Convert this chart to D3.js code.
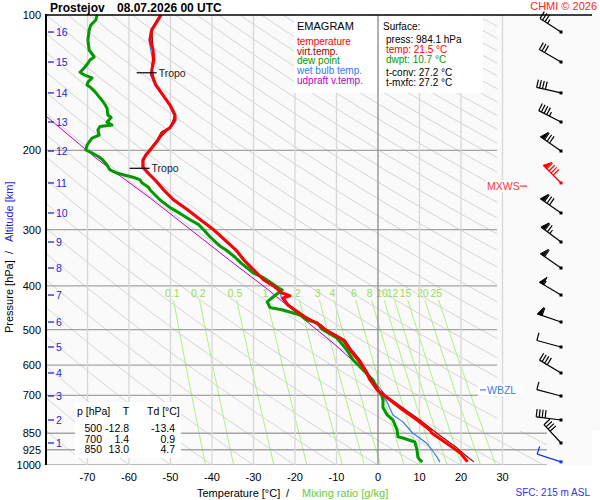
<!DOCTYPE html>
<html>
<head>
<meta charset="utf-8">
<script src="https://cdn.jsdelivr.net/npm/d3@7"></script>
<style>
body { margin: 0; background: #fff; }
svg { font-family: "Liberation Sans", Arial, sans-serif; }
</style>
</head>
<body>
<svg id="emagram" width="600" height="500"></svg>
<script>
const station = 'Prostejov';
const runLabel = '08.07.2026 00 UTC';

const pressureTicks = [100, 200, 300, 400, 500, 600, 700, 850, 925, 1000];
const pressureLines = [200, 300, 400, 500, 600, 700, 850, 925, 1000];
const tempTicks = [-70, -60, -50, -40, -30, -20, -10, 0, 10, 20, 30];
const mixRatios = [0.1, 0.2, 0.5, 1, 2, 3, 4, 6, 8, 10, 12, 15, 20, 25];

const altKm = [1, 2, 3, 4, 5, 6, 7, 8, 9, 10, 11, 12, 13, 14, 15, 16];
const altP = [893.5, 794.3, 702.6, 624.5, 546.7, 481.1, 419.1, 365.0, 319.5, 275.4, 236.2, 200.6, 172.9, 149.0, 127.2, 109.1];

// [p hPa, T degC]
const temperature = [[984.1, 21.5], [979.5, 21.4], [940, 19.8], [916, 18.1], [879.9, 15.4], [850, 13.0], [836.0, 12.5],
    [794.3, 9.4], [754.7, 6.0], [717.1, 2.9], [700, 1.4], [681.3, -0.2], [647.3, -1.9], [615.1, -3.1], [584.3, -4.8],
    [555.2, -6.7], [527.5, -8.4], [500, -12.8], [488.6, -14.0], [469, -17.6], [452.5, -20.0], [441.0, -21.7],
    [425.5, -22.9], [421, -21.2], [414.8, -23.1], [402.2, -24.8], [388.1, -27.5], [368.7, -29.9], [350.3, -32.3],
    [332.9, -34.2], [316.2, -36.9], [300.5, -39.5], [285.5, -42.7], [271.2, -45.8], [257.7, -49.2], [244.8, -51.6],
    [232.6, -53.7], [224.5, -55.4], [217.6, -56.6], [210.0, -56.6], [204.7, -55.9], [199.5, -54.9], [189.6, -53.0],
    [182.5, -52.0], [178, -50.1], [171.1, -48.9], [166.8, -48.9], [158.5, -50.1], [150.6, -51.8], [143.1, -53.5],
    [135.9, -54.5], [132.5, -54.5], [125.9, -54.0], [119.6, -54.2], [113.7, -54.9], [108.0, -54.5], [103.6, -53.3],
    [100, -52.3]];

const virtTemp = [[984.1, 23.1], [950.2, 21.0], [916, 19.0], [879.9, 16.4], [850, 14.2], [794.3, 10.1], [754.7, 6.7],
    [717.1, 3.4], [700, 1.8], [681.3, 0.1], [647.3, -1.5], [615.1, -2.8], [584.3, -4.3], [555.2, -6.3], [527.5, -7.9],
    [500, -12.4], [488.6, -13.7], [469, -17.3], [452.5, -19.8], [441.0, -21.5], [425.5, -22.7], [421, -21.1],
    [414.8, -23.0], [402.2, -24.7], [388.1, -27.5], [368.7, -29.9], [350.3, -32.3], [332.9, -34.2], [316.2, -36.9],
    [300.5, -39.5], [285.5, -42.7], [271.2, -45.8], [257.7, -49.2], [244.8, -51.6], [232.6, -53.7], [224.5, -55.4],
    [217.6, -56.6], [210.0, -56.6], [199.5, -54.9], [189.6, -53.0], [178, -50.1], [166.8, -48.9], [158.5, -50.1],
    [143.1, -53.5], [132.5, -54.5], [119.6, -54.2], [108.0, -54.5], [100, -52.3]];

const wetBulb = [[984.1, 14.9], [960, 14.2], [926.1, 13.0], [896, 11.8], [872, 10.1], [850, 8.4], [802, 6.0], [774, 3.6],
    [725, 2.2], [700, 1.1], [681.3, -0.4], [647.3, -2.1], [615.1, -3.3], [584.3, -5.0], [555.2, -6.9], [527.5, -8.7],
    [500, -13.0], [488.6, -14.3], [469, -17.9], [452.5, -20.3], [441.0, -22.0], [425.5, -23.3], [414.8, -23.5],
    [402.2, -25.1], [388.1, -27.8], [368.7, -30.2], [350.3, -32.6], [332.9, -34.5], [316.2, -37.2], [300.5, -39.8],
    [285.5, -43.0], [271.2, -46.1], [257.7, -49.5], [244.8, -51.9], [232.6, -54.0], [224.5, -55.7], [217.6, -56.9],
    [210.0, -56.9], [204.7, -56.2], [199.5, -55.2], [189.6, -53.3], [182.5, -52.3], [178, -50.4], [171.1, -49.2],
    [166.8, -49.2], [158.5, -50.4], [150.6, -52.1], [143.1, -53.8], [135.9, -54.8], [125.9, -54.3], [113.7, -55.2],
    [108.0, -54.8], [103.6, -53.6], [100, -52.6]];

const dewPoint = [[984.1, 10.7], [974.8, 10.1], [960, 9.6], [926.1, 9.4], [889, 8.9], [871, 6.0], [866, 4.8], [850, 4.7],
    [836.0, 4.6], [794.3, 3.6], [774, 2.2], [745, 1.2], [717.1, 1.2], [700, 0.9], [681.3, 0.0], [647.3, -1.2],
    [615.1, -3.6], [584.3, -6.0], [555.2, -7.5], [522, -9.9], [500, -13.4], [483, -14.7], [476.2, -17.1],
    [464.2, -18.8], [452.5, -22.9], [447, -26.0], [434, -26.7], [423.3, -25.3], [408.4, -23.1], [402.2, -24.3],
    [395, -25.5], [384, -27.5], [374, -30.1], [356, -33.0], [345, -34.5], [332.9, -36.6], [326, -38.1], [311, -40.5],
    [300, -42.0], [292, -43.3], [285, -45.3], [276, -47.7], [268, -50.1], [257.7, -52.5], [244.8, -54.9], [241, -55.4],
    [236, -56.9], [232.6, -57.3], [230, -58.6], [226.8, -61.2], [224.5, -62.9], [221.0, -64.6], [215.4, -65.3],
    [210.0, -66.3], [206.8, -67.2], [202.6, -68.9], [199.5, -70.4], [194.5, -70.1], [191.5, -69.6], [187.7, -68.9],
    [184.8, -67.2], [180.1, -67.5], [177, -67.0], [175.6, -64.1], [173, -65.3], [169, -64.3], [166.8, -65.1],
    [161, -65.3], [157, -66.0], [152, -67.2], [148, -68.2], [145, -69.2], [143.1, -70.1], [141, -69.9], [138, -68.9],
    [135.9, -70.8], [134, -71.8], [130.5, -70.6], [128, -69.9], [125.9, -69.4], [124, -68.4], [122.7, -68.7],
    [119.6, -69.6], [113.7, -69.9], [108.0, -69.6], [105.3, -69.2], [102.6, -68.0], [100, -67.7]];

const updraft = [[695, 1.5], [688.3, 1.2], [624.5, -2.7], [535.8, -10.8], [466.6, -18.8], [406.3, -26.7],
    [355.7, -34.9], [311.4, -42.9], [255.1, -54.9], [208.9, -67.7], [167.7, -80.0]];

// wind: surface, then 1..16 km
const windP = [984.1].concat(altP);
const windDir = [288, 317, 277, 285, 301, 285, 289, 301, 305, 307, 305, 315, 305, 297, 283, 300, 303];
const windSpd = [10, 40, 40, 10, 40, 10, 60, 55, 60, 75, 80, 90, 80, 45, 40, 30, 35];
const maxWindKm = 11;

const tropoP = [134.4, 219.1];
const tropoT = [-54.3, -56.0];
const wbzlP = 681;
const mxwsP = 240;

const surface = {press: 984.1, temp: 21.5, dwpt: 10.7, tconv: 27.2, tmxfc: 27.2, height: 215};
const tableP = [500, 700, 850];
const tableT = [-12.8, 1.4, 13.0];
const tableTd = [-13.4, 0.9, 4.7];

const legendNames = ['temperature', 'virt.temp.', 'dew point', 'wet bulb temp.', 'udpraft v.temp.'];
const legendColors = ['#ff0000', '#a00000', '#009900', '#3377ff', '#bb00bb'];

// ---------------------------------------------------------------------------
let svg = d3.select('#emagram');
let x = d3.scaleLinear().domain([-80, 40]).range([46, 544]);
let y = d3.scaleLog().domain([100, 1000]).range([15, 465]);
let line = d3.line().x((d) => x(d[1])).y((d) => y(d[0]));

svg.append('defs').append('clipPath').attr('id', 'plotClip')
    .append('rect').attr('x', 46).attr('y', 15).attr('width', 501).attr('height', 450);

svg.append('rect').attr('x', 46).attr('y', 15).attr('width', 546).attr('height', 450).attr('fill', '#fafafa');

let grid = svg.append('g').attr('clip-path', 'url(#plotClip)');

// dry adiabats
let steps = d3.range(100, 1001, 5);
d3.range(-70, 341, 10).forEach((theta) => {
    let pts = steps.map((p) => [p, (theta + 273.15) * Math.pow(p / 1000, 0.2857) - 273.15]);
    grid.append('path').datum(pts).attr('d', line)
        .attr('fill', 'none').attr('stroke', '#d4d4d4').attr('stroke-width', 1);
});

// mixing ratio lines
function dewFromMix(w, p) {
    let l = Math.log(w * p / (622 + w) / 6.112);
    return 243.5 * l / (17.67 - l);
}
let mixSteps = d3.range(430, 1001, 10);
mixRatios.forEach((w) => {
    let pts = mixSteps.map((p) => [p, dewFromMix(w, p)]);
    grid.append('path').datum(pts).attr('d', line)
        .attr('fill', 'none').attr('stroke', '#aef07e').attr('stroke-width', 1);
    svg.append('text').attr('x', x(dewFromMix(w, 415))).attr('y', 297)
        .attr('text-anchor', 'middle').attr('font-size', 10.5).attr('fill', '#99dd55')
        .text(w);
});

// pressure lines
pressureLines.forEach((p) => {
    grid.append('line').attr('x1', 46).attr('x2', 547).attr('y1', y(p)).attr('y2', y(p))
        .attr('stroke', '#a4a4a4').attr('stroke-width', 1.3);
});

// wind panel covers the grid on the right
svg.append('rect').attr('x', 497).attr('y', 16).attr('width', 103).attr('height', 415).attr('fill', '#fafafa');

// isotherms
tempTicks.forEach((t) => {
    svg.append('line').attr('x1', x(t)).attr('x2', x(t)).attr('y1', 15).attr('y2', 465)
        .attr('stroke', t === 0 ? '#8c8c8c' : '#d8d8d8').attr('stroke-width', 1.3);
});

// boxes -----------------------------------------------------------------------
svg.append('rect').attr('x', 294).attr('y', 16).attr('width', 83).attr('height', 77).attr('fill', '#fff');
svg.append('rect').attr('x', 379).attr('y', 16).attr('width', 104).attr('height', 77).attr('fill', '#fff');
svg.append('rect').attr('x', 75).attr('y', 402).attr('width', 106).attr('height', 56).attr('fill', '#fff');

svg.append('text').attr('x', 297).attr('y', 29.5).attr('font-size', 11).text('EMAGRAM');
legendNames.forEach((n, i) => {
    svg.append('text').attr('x', 297).attr('y', 45 + i * 9.7).attr('font-size', 10)
        .attr('fill', legendColors[i]).text(n);
});

let sfcLines = [
    {t: 'Surface:', x: 383, y: 30, c: '#000'},
    {t: 'press: ' + surface.press.toFixed(1) + ' hPa', x: 386, y: 42.5, c: '#000'},
    {t: 'temp: ' + surface.temp.toFixed(1) + ' °C', x: 386, y: 53, c: '#ff0000'},
    {t: 'dwpt: ' + surface.dwpt.toFixed(1) + ' °C', x: 386, y: 63, c: '#009900'},
    {t: 't-conv: ' + surface.tconv.toFixed(1) + ' °C', x: 386, y: 76, c: '#000'},
    {t: 't-mxfc: ' + surface.tmxfc.toFixed(1) + ' °C', x: 386, y: 86, c: '#000'}
];
sfcLines.forEach((d) => {
    svg.append('text').attr('x', d.x).attr('y', d.y).attr('font-size', 10).attr('fill', d.c).text(d.t);
});

// table
svg.append('text').attr('x', 77).attr('y', 415).attr('font-size', 10.5).text('p [hPa]');
svg.append('text').attr('x', 126).attr('y', 415).attr('font-size', 10.5).attr('text-anchor', 'middle').text('T');
svg.append('text').attr('x', 147).attr('y', 415).attr('font-size', 10.5).text('Td [°C]');
tableP.forEach((p, i) => {
    let yy = 432 + i * 10.7;
    svg.append('text').attr('x', 102).attr('y', yy).attr('font-size', 10.5).attr('text-anchor', 'end').text(p);
    svg.append('text').attr('x', 129).attr('y', yy).attr('font-size', 10.5).attr('text-anchor', 'end').text(tableT[i].toFixed(1));
    svg.append('text').attr('x', 175).attr('y', yy).attr('font-size', 10.5).attr('text-anchor', 'end').text(tableTd[i].toFixed(1));
});

// profiles ---------------------------------------------------------------------
let prof = svg.append('g').attr('clip-path', 'url(#plotClip)').attr('fill', 'none')
    .attr('stroke-linejoin', 'round');
prof.append('path').datum(updraft).attr('d', line).attr('stroke', '#bb00bb').attr('stroke-width', 1);
prof.append('path').datum(wetBulb).attr('d', line).attr('stroke', '#3377ff').attr('stroke-width', 1.2);
prof.append('path').datum(dewPoint).attr('d', line).attr('stroke', '#009900').attr('stroke-width', 3);
prof.append('path').datum(virtTemp).attr('d', line).attr('stroke', '#a00000').attr('stroke-width', 1.2);
prof.append('path').datum(temperature).attr('d', line).attr('stroke', '#ff0000').attr('stroke-width', 3);

// tropopause
tropoP.forEach((p, i) => {
    let tx = x(tropoT[i]);
    svg.append('line').attr('x1', tx - 16).attr('x2', tx + 4).attr('y1', y(p)).attr('y2', y(p))
        .attr('stroke', '#000').attr('stroke-width', 1.2);
    svg.append('text').attr('x', tx + 6).attr('y', y(p) + 4).attr('font-size', 10.5).attr('fill', '#222').text('Tropo');
});

// frame -----------------------------------------------------------------------
svg.append('line').attr('x1', 46).attr('x2', 46).attr('y1', 14).attr('y2', 465).attr('stroke', '#000').attr('stroke-width', 2);
svg.append('line').attr('x1', 45).attr('x2', 592).attr('y1', 15).attr('y2', 15).attr('stroke', '#000').attr('stroke-width', 1.5);

pressureTicks.forEach((p) => {
    svg.append('text').attr('x', 41).attr('y', y(p) + 4).attr('text-anchor', 'end').attr('font-size', 11).text(p);
});
tempTicks.forEach((t) => {
    svg.append('text').attr('x', x(t)).attr('y', 481).attr('text-anchor', 'middle').attr('font-size', 11).text(t);
});

// altitude ticks
altKm.forEach((k, i) => {
    let yy = y(altP[i]);
    svg.append('line').attr('x1', 48).attr('x2', 54).attr('y1', yy).attr('y2', yy).attr('stroke', '#2323e0').attr('stroke-width', 1.3);
    svg.append('text').attr('x', 56).attr('y', yy + 4).attr('font-size', 10.5).attr('fill', '#2323e0').text(k);
});

// axis titles
svg.append('text').attr('transform', 'translate(13,333) rotate(-90)').attr('font-size', 11).text('Pressure [hPa]');
svg.append('text').attr('transform', 'translate(13,254) rotate(-90)').attr('font-size', 11).text('/');
svg.append('text').attr('transform', 'translate(13,242) rotate(-90)').attr('font-size', 11).attr('fill', '#2323e0').text('Altitude [km]');

svg.append('text').attr('x', 197).attr('y', 497).attr('font-size', 11).text('Temperature [°C]');
svg.append('text').attr('x', 286).attr('y', 497).attr('font-size', 11).text('/');
svg.append('text').attr('x', 302).attr('y', 497).attr('font-size', 11).attr('fill', '#66cc33').text('Mixing ratio [g/kg]');

svg.append('text').attr('x', 590).attr('y', 496).attr('text-anchor', 'end').attr('font-size', 10).attr('fill', '#3333ee')
    .text('SFC: ' + surface.height + ' m ASL');

svg.append('text').attr('x', 50).attr('y', 12).attr('font-size', 12).attr('font-weight', 'bold').text(station);
svg.append('text').attr('x', 117).attr('y', 12).attr('font-size', 12).attr('font-weight', 'bold').text(runLabel);
svg.append('text').attr('x', 597).attr('y', 10).attr('text-anchor', 'end').attr('font-size', 11).attr('fill', '#ff2222')
    .text('CHMI © 2026');

// level labels
let wy = y(wbzlP);
svg.append('rect').attr('x', 478).attr('y', wy - 6).attr('width', 45).attr('height', 12).attr('fill', '#fff');
svg.append('line').attr('x1', 480).attr('x2', 486).attr('y1', wy).attr('y2', wy).attr('stroke', '#4477ee').attr('stroke-width', 1.2);
svg.append('text').attr('x', 487).attr('y', wy + 4).attr('font-size', 10.5).attr('fill', '#4477ee').text('WBZL');

let my = y(mxwsP);
svg.append('rect').attr('x', 486).attr('y', my - 6).attr('width', 32).attr('height', 12).attr('fill', '#fff');
svg.append('text').attr('x', 487).attr('y', my + 4).attr('font-size', 10.5).attr('fill', '#ff3333').text('MXWS');
svg.append('line').attr('x1', 520).attr('x2', 527).attr('y1', my).attr('y2', my).attr('stroke', '#ff3333').attr('stroke-width', 1.2);

// wind barbs --------------------------------------------------------------------
function drawBarb(g, cx, cy, dir, spd, color) {
    let a = dir * Math.PI / 180;
    let ux = Math.sin(a), uy = -Math.cos(a);
    let nx = -uy, ny = ux;
    let staff = 25, full = 8, half = 4.5, gap = 3;
    let at = (s) => [cx + ux * s, cy + uy * s];
    let end = at(staff);
    g.append('line').attr('x1', cx).attr('y1', cy).attr('x2', end[0]).attr('y2', end[1])
        .attr('stroke', color).attr('stroke-width', 1.2);
    let rest = Math.round(spd / 5) * 5;
    let flags = Math.floor(rest / 50);
    rest -= flags * 50;
    let fulls = Math.floor(rest / 10);
    rest -= fulls * 10;
    let pos = staff;
    for (let i = 0; i < flags; i++) {
        let p0 = at(pos), p1 = at(pos - 4);
        let tip = [p1[0] + nx * full, p1[1] + ny * full];
        g.append('path').attr('d', 'M' + p0 + 'L' + p1 + 'L' + tip + 'Z').attr('fill', color).attr('stroke', color);
        pos -= 5;
    }
    for (let i = 0; i < fulls; i++) {
        let p0 = at(pos);
        g.append('line').attr('x1', p0[0]).attr('y1', p0[1]).attr('x2', p0[0] + nx * full).attr('y2', p0[1] + ny * full)
            .attr('stroke', color).attr('stroke-width', 1.2);
        pos -= gap;
    }
    if (rest >= 5) {
        let p0 = at(pos);
        g.append('line').attr('x1', p0[0]).attr('y1', p0[1]).attr('x2', p0[0] + nx * half).attr('y2', p0[1] + ny * half)
            .attr('stroke', color).attr('stroke-width', 1.2);
    }
    g.append('rect').attr('x', cx - 1.5).attr('y', cy - 1.5).attr('width', 3).attr('height', 3).attr('fill', color);
}

let barbs = svg.append('g');
windP.forEach((p, i) => {
    let color = i === 0 ? '#1133ee' : (i === maxWindKm ? '#ff0000' : '#000');
    drawBarb(barbs, 561, y(p), windDir[i], windSpd[i], color);
});
</script>
</body>
</html>
